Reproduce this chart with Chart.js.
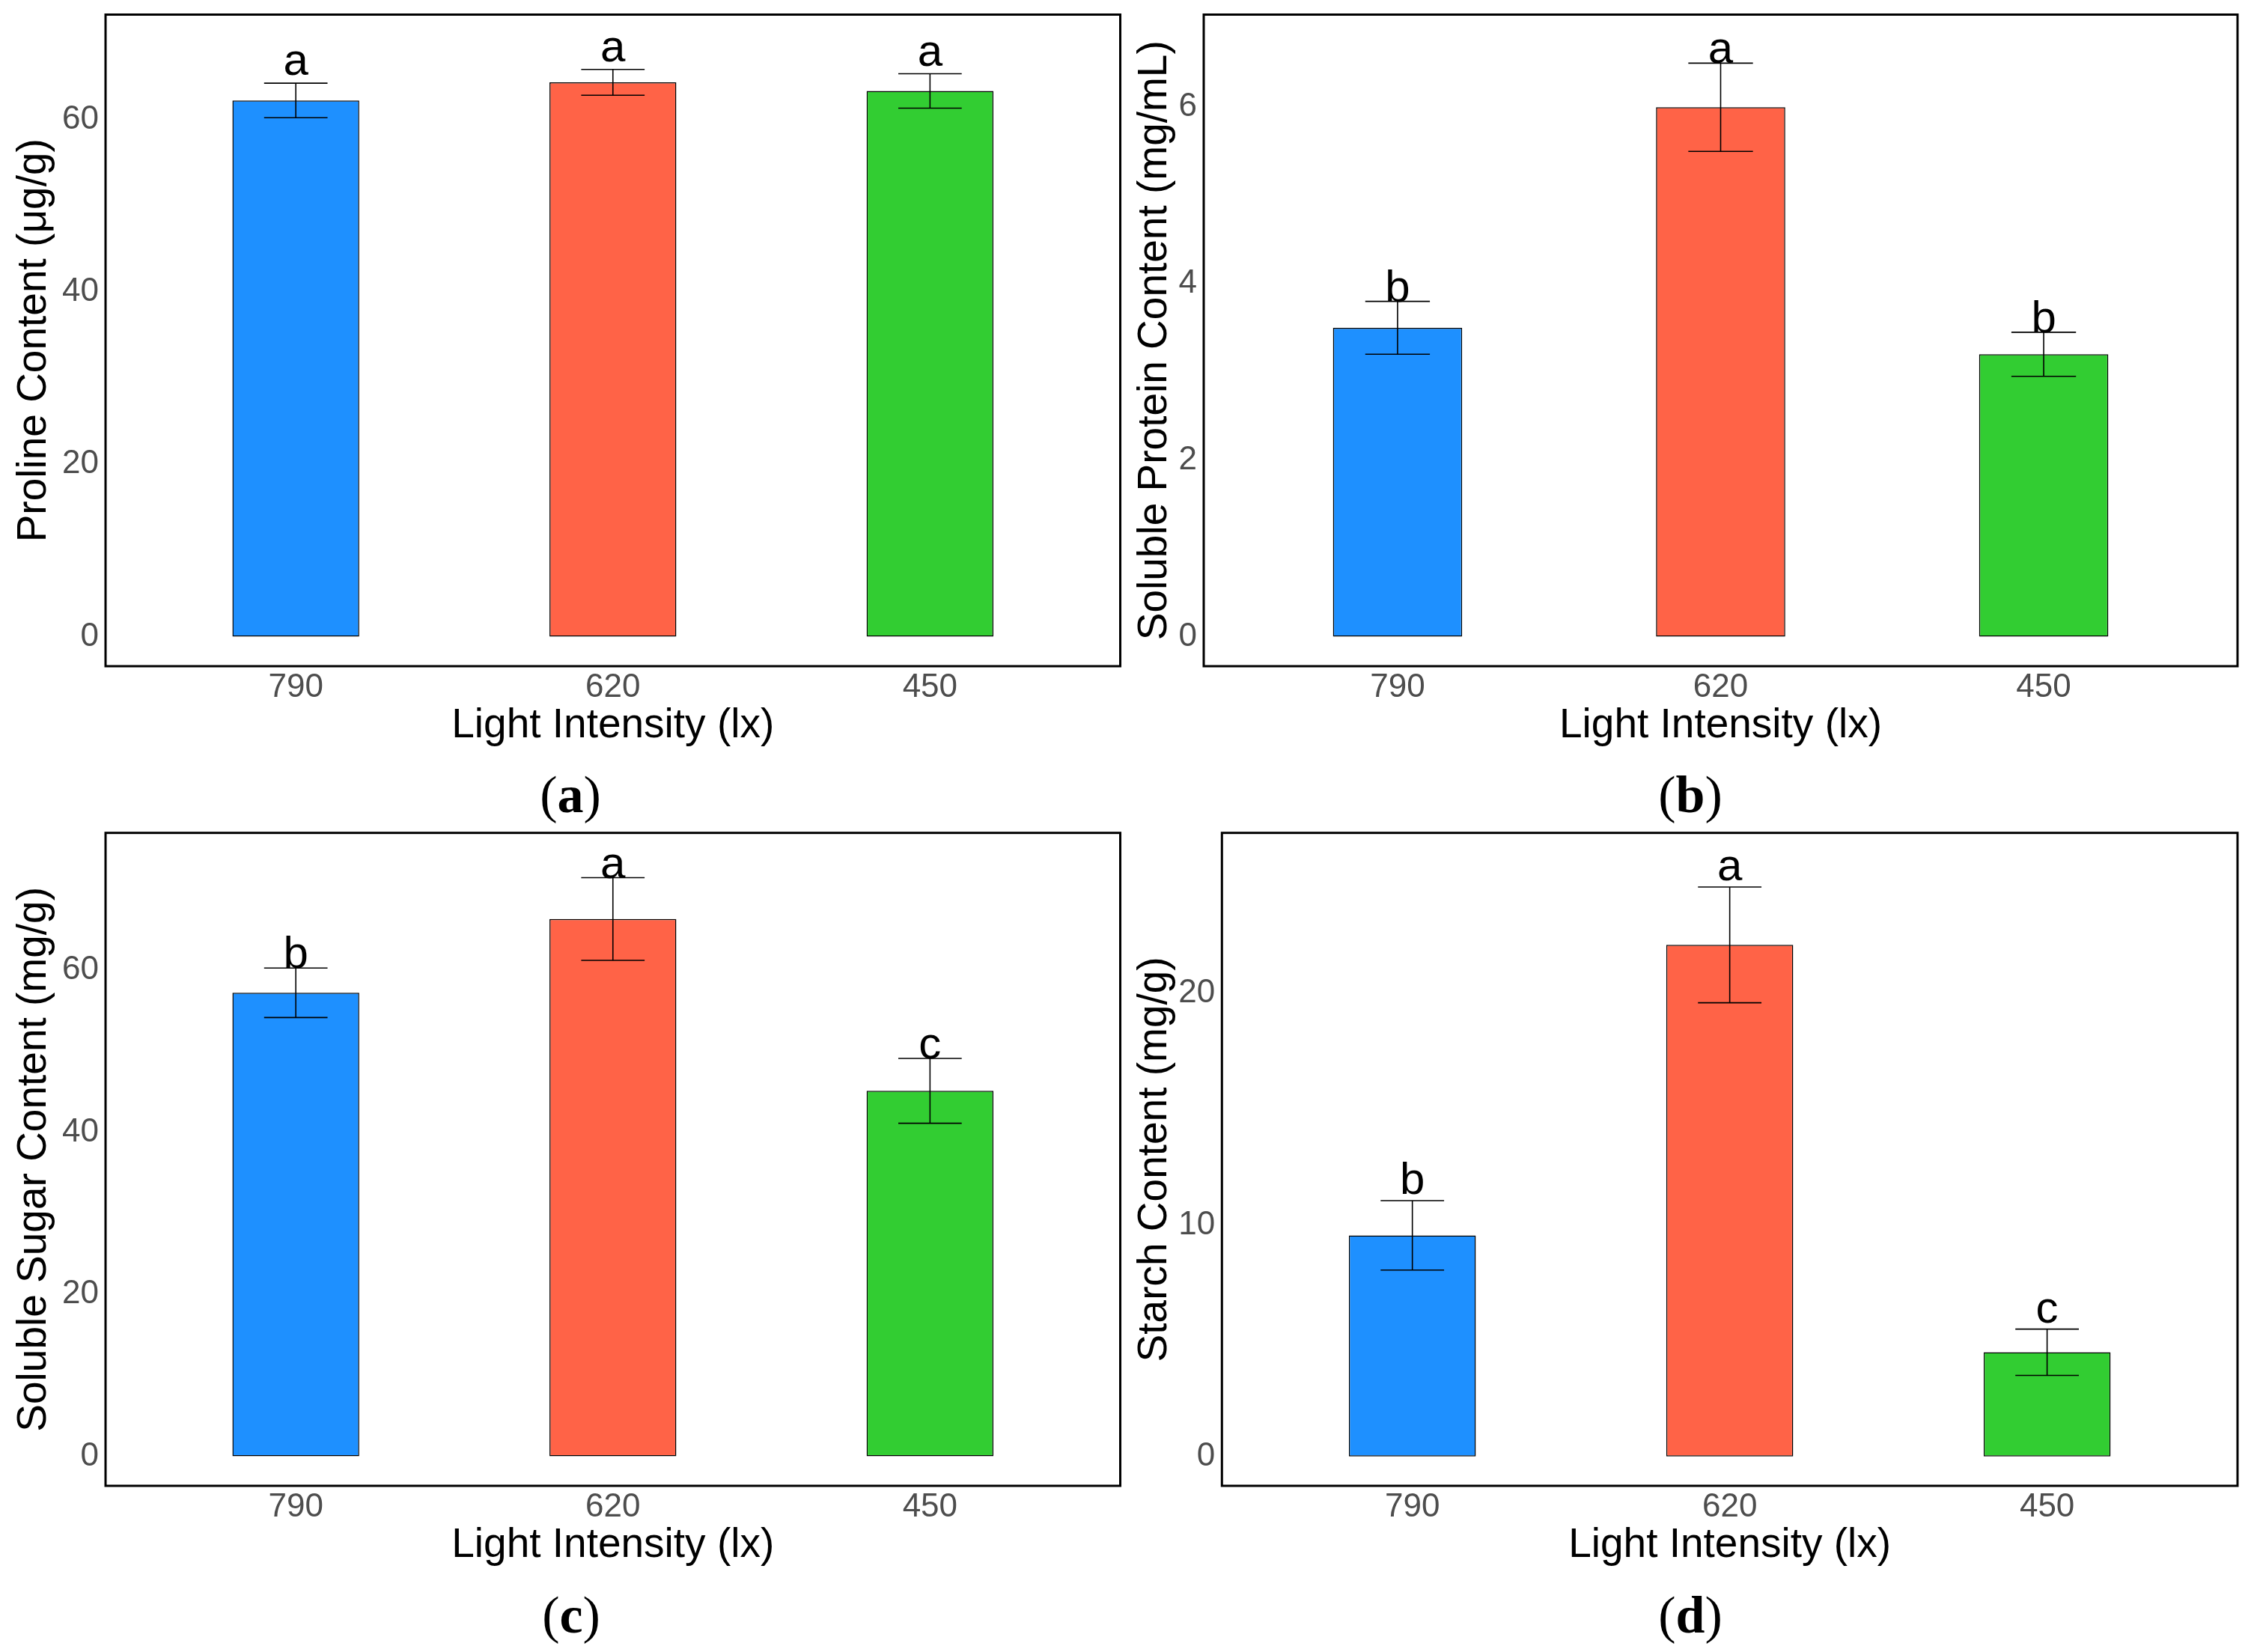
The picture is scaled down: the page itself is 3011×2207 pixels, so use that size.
<!DOCTYPE html>
<html>
<head>
<meta charset="utf-8">
<title>Light intensity effects</title>
<script src="https://cdn.jsdelivr.net/npm/chart.js@4.4.1/dist/chart.umd.min.js"></script>
<style>
  body { margin: 0; background: #fff; width: 3011px; height: 2207px; position: relative; overflow: hidden; }
  canvas { position: absolute; }
  .tag { position: absolute; font-family: "Liberation Serif", "Times New Roman", serif; font-size: 70px;
         line-height: 1; transform: translateX(-50%); white-space: nowrap; color: #000; }
</style>
</head>
<body>
<canvas id="pA"></canvas>
<canvas id="pB"></canvas>
<canvas id="pC"></canvas>
<canvas id="pD"></canvas>
<div class="tag" style="left:762px; top:1027px">(<b>a</b>)</div>
<div class="tag" style="left:2258px; top:1027px">(<b>b</b>)</div>
<div class="tag" style="left:763px; top:2123px">(<b>c</b>)</div>
<div class="tag" style="left:2258px; top:2123px">(<b>d</b>)</div>
<script>
// categories and colours
const lightLevels = ['790', '620', '450'];
const barColors = ['#1E90FF', '#FF6347', '#32CD32'];

// (a) proline
const prolineMean = [62.2, 64.3, 63.3];
const prolineSd = [2.0, 1.5, 2.0];
const prolineLetters = ['a', 'a', 'a'];
const prolineTicks = [0, 20, 40, 60];

// (b) soluble protein
const proteinMean = [3.5, 6.0, 3.2];
const proteinSd = [0.3, 0.5, 0.25];
const proteinLetters = ['b', 'a', 'b'];
const proteinTicks = [0, 2, 4, 6];

// (c) soluble sugar
const sugarMean = [57.2, 66.3, 45.1];
const sugarSd = [3.05, 5.1, 4.0];
const sugarLetters = ['b', 'a', 'c'];
const sugarTicks = [0, 20, 40, 60];

// (d) starch
const starchMean = [9.55, 22.1, 4.5];
const starchSd = [1.5, 2.5, 1.0];
const starchLetters = ['b', 'a', 'c'];
const starchTicks = [0, 10, 20];

const SANS = '"Liberation Sans", Arial, sans-serif';
Chart.defaults.font.family = SANS;

function drawPanel(p) {
    const canvas = document.getElementById(p.id);
    canvas.width = p.w;
    canvas.height = p.h;
    canvas.style.left = p.left + 'px';
    canvas.style.top = p.top + 'px';
    canvas.style.width = p.w + 'px';
    canvas.style.height = p.h + 'px';

    const xs = lightLevels.map((_, i) => i + 1);

    // panel border round the plotting area
    const frame = {
        id: 'frame',
        afterDraw(chart) {
            const { ctx, chartArea: a } = chart;
            ctx.save();
            ctx.lineWidth = 3;
            ctx.strokeStyle = '#000';
            ctx.strokeRect(a.left, a.top, a.right - a.left, a.bottom - a.top);
            ctx.restore();
        }
    };

    // error bars and significance letters
    const whiskers = {
        id: 'whiskers',
        afterDatasetsDraw(chart) {
            const { ctx, scales: { x, y } } = chart;
            ctx.save();
            ctx.strokeStyle = '#000';
            ctx.lineWidth = 1.6;
            ctx.fillStyle = '#000';
            ctx.font = '60px ' + SANS;
            ctx.textAlign = 'center';
            ctx.textBaseline = 'alphabetic';
            p.mean.forEach((m, i) => {
                const cx = x.getPixelForValue(xs[i]);
                const half = x.getPixelForValue(xs[i] + 0.1) - cx;
                const hi = y.getPixelForValue(m + p.sd[i]);
                const lo = y.getPixelForValue(m - p.sd[i]);
                ctx.beginPath();
                ctx.moveTo(cx, hi); ctx.lineTo(cx, lo);
                ctx.moveTo(cx - half, hi); ctx.lineTo(cx + half, hi);
                ctx.moveTo(cx - half, lo); ctx.lineTo(cx + half, lo);
                ctx.stroke();
                ctx.fillText(p.letters[i], cx, hi - p.gap);
            });
            ctx.restore();
        }
    };

    new Chart(canvas, {
        type: 'bar',
        data: {
            datasets: [{
                data: p.mean.map((v, i) => ({ x: xs[i], y: v })),
                backgroundColor: barColors,
                borderColor: '#000',
                borderWidth: 1.5,
                borderSkipped: false,
                barPercentage: 0.4,
                categoryPercentage: 1
            }]
        },
        options: {
            responsive: false,
            animation: false,
            devicePixelRatio: 1,
            layout: {
                padding: { left: 0, top: p.box.top - p.top, right: p.left + p.w - p.box.right, bottom: 0 }
            },
            plugins: { legend: { display: false }, tooltip: { enabled: false } },
            scales: {
                x: {
                    type: 'linear',
                    min: 0.4,
                    max: 3.6,
                    offset: false,
                    grid: { display: false, drawTicks: false },
                    border: { display: false },
                    afterBuildTicks: s => { s.ticks = xs.map(v => ({ value: v })); },
                    afterFit: s => {
                        s.height = p.top + p.h - p.box.bottom;
                        s.paddingLeft = 0; s.paddingRight = 0;
                    },
                    ticks: {
                        callback: v => lightLevels[v - 1],
                        color: '#4D4D4D',
                        font: { size: 44, lineHeight: 1 },
                        padding: 7,
                        maxRotation: 0,
                        autoSkip: false
                    },
                    title: {
                        display: true,
                        text: 'Light Intensity (lx)',
                        color: '#000',
                        font: { size: 55, lineHeight: 1 },
                        padding: { top: 0, bottom: 13 }
                    }
                },
                y: {
                    min: p.yMin,
                    max: p.yMax,
                    grid: { display: false, drawTicks: false },
                    border: { display: false },
                    afterBuildTicks: s => { s.ticks = p.ticks.map(v => ({ value: v })); },
                    afterFit: s => {
                        s.width = p.box.left - p.left;
                        s.paddingTop = 0; s.paddingBottom = 0;
                    },
                    ticks: {
                        color: '#4D4D4D',
                        font: { size: 44, lineHeight: 1 },
                        padding: 9
                    },
                    title: {
                        display: true,
                        text: p.yTitle,
                        color: '#000',
                        font: { size: 55, lineHeight: 1 },
                        padding: { top: p.titlePad, bottom: 0 }
                    }
                }
            }
        },
        plugins: [whiskers, frame]
    });
}

drawPanel({
    id: 'pA', left: 0, top: 0, w: 1505, h: 1010,
    box: { left: 141, top: 19.5, right: 1496.5, bottom: 890 },
    yMin: -3.43, yMax: 72.16, ticks: prolineTicks,
    mean: prolineMean, sd: prolineSd, letters: prolineLetters, gap: 11,
    yTitle: 'Proline Content (μg/g)', titlePad: 18
});

drawPanel({
    id: 'pB', left: 1500, top: 0, w: 1511, h: 1010,
    box: { left: 1608, top: 19.5, right: 2989, bottom: 890 },
    yMin: -0.335, yMax: 7.05, ticks: proteinTicks,
    mean: proteinMean, sd: proteinSd, letters: proteinLetters, gap: 0,
    yTitle: 'Soluble Protein Content (mg/mL)', titlePad: 15
});

drawPanel({
    id: 'pC', left: 0, top: 1100, w: 1505, h: 1005,
    box: { left: 141, top: 1112.7, right: 1496.5, bottom: 1985 },
    yMin: -3.64, yMax: 76.93, ticks: sugarTicks,
    mean: sugarMean, sd: sugarSd, letters: sugarLetters, gap: 0,
    yTitle: 'Soluble Sugar Content (mg/g)', titlePad: 18
});

drawPanel({
    id: 'pD', left: 1500, top: 1100, w: 1511, h: 1005,
    box: { left: 1632.3, top: 1112.7, right: 2989, bottom: 1985 },
    yMin: -1.27, yMax: 26.94, ticks: starchTicks,
    mean: starchMean, sd: starchSd, letters: starchLetters, gap: 9,
    yTitle: 'Starch Content (mg/g)', titlePad: 15
});
</script>
</body>
</html>
